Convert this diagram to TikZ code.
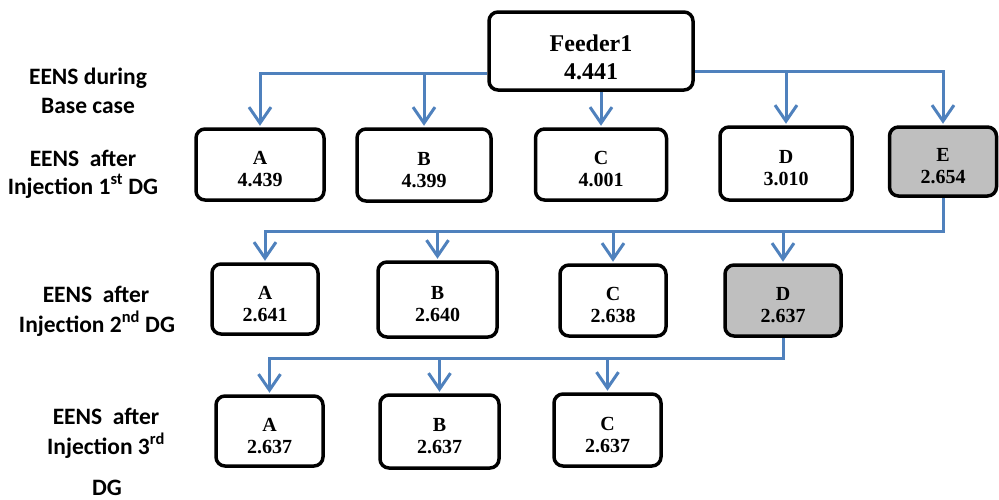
\documentclass[tikz,border=0pt]{standalone}
\usepackage{fontspec}
\setmainfont{Liberation Serif}
\newfontfamily\lblfont{Carlito}
\usetikzlibrary{arrows.meta,calc}
\definecolor{linkblue}{RGB}{79,129,189}
\definecolor{selgray}{RGB}{191,191,191}
\begin{document}
\begin{tikzpicture}[x=1pt,y=-1pt,
  box/.style={draw=black, line width=3.5pt, rounded corners=9pt, fill=white,
    align=center, inner sep=0pt, text height=44pt, text depth=0pt,
    font=\fontsize{20}{22}\selectfont\bfseries},
  selbox/.style={box, fill=selgray},
  conn/.style={draw=linkblue, line width=3pt, -{Straight Barb[length=16pt,width=22pt,line width=3pt]}, shorten >=1.5pt},
  lbl/.style={anchor=base, inner sep=0pt, font=\lblfont\fontsize{23.5}{26}\selectfont\bfseries}
]
\useasboundingbox (0,0) rectangle (999,499);

% boxes
\node[box, minimum width=204pt, minimum height=78pt, text height=56pt, text depth=0pt,
  font=\fontsize{24}{28}\selectfont\bfseries] (F) at (591,51) {Feeder1\\4.441};

\node[box, minimum width=128pt, minimum height=71pt] (R1A) at (260,164.5) {A\\4.439};
\node[box, minimum width=134pt, minimum height=72pt] (R1B) at (424,165) {B\\4.399};
\node[box, minimum width=131pt, minimum height=71pt] (R1C) at (601,164.5) {C\\4.001};
\node[box, minimum width=132pt, minimum height=73pt] (R1D) at (786,163.5) {D\\3.010};
\node[selbox, minimum width=107pt, minimum height=69pt] (R1E) at (943,161.5) {E\\2.654};

\node[box, minimum width=106pt, minimum height=70pt] (R2A) at (265,299) {A\\2.641};
\node[box, minimum width=119pt, minimum height=75pt] (R2B) at (437.5,299.5) {B\\2.640};
\node[box, minimum width=106pt, minimum height=71pt] (R2C) at (613,300.5) {C\\2.638};
\node[selbox, minimum width=116pt, minimum height=71pt] (R2D) at (783,300.5) {D\\2.637};

\node[box, minimum width=107pt, minimum height=70pt] (R3A) at (269.5,431) {A\\2.637};
\node[box, minimum width=119pt, minimum height=73pt] (R3B) at (439.5,431.5) {B\\2.637};
\node[box, minimum width=107pt, minimum height=72pt] (R3C) at (607.5,430) {C\\2.637};

% bus levels
\coordinate (b1l) at (0,73);
\coordinate (b1r) at (0,71);
\coordinate (b2) at (0,231);
\coordinate (b3) at (0,358);

% level 1
\draw[conn] (F.west |- b1l) -| (R1A.north);
\draw[conn] (R1B.north |- b1l) -- (R1B.north);
\draw[conn] (R1C.north |- F.south) -- (R1C.north);
\draw[conn] (F.east |- b1r) -| (R1E.north);
\draw[conn] (R1D.north |- b1r) -- (R1D.north);

% level 2
\draw[conn] (R1E.south) -- (R1E.south |- b2) -- (R2A.north |- b2) -- (R2A.north);
\draw[conn] (R2B.north |- b2) -- (R2B.north);
\draw[conn] (R2C.north |- b2) -- (R2C.north);
\draw[conn] (R2D.north |- b2) -- (R2D.north);

% level 3
\draw[conn] (R2D.south) -- (R2D.south |- b3) -- (R3A.north |- b3) -- (R3A.north);
\draw[conn] (R3B.north |- b3) -- (R3B.north);
\draw[conn] (R3C.north |- b3) -- (R3C.north);

% left labels
\node[lbl] (L0a) at (88,84) {EENS during};
\node[lbl] (L0b) at (88,113) {Base case};
\node[lbl] (L1a) at (83,166) {EENS\ \ after};
\node[lbl] (L1b) at (83,194) {Injection 1\textsuperscript{st} DG};
\node[lbl] (L2a) at (96,302) {EENS\ \ after};
\node[lbl] (L2b) at (97,332) {Injection 2\textsuperscript{nd} DG};
\node[lbl] (L3a) at (106,424) {EENS\ \ after};
\node[lbl] (L3b) at (106,454) {Injection 3\textsuperscript{rd}};
\node[lbl] (L3c) at (107,495) {DG};
\end{tikzpicture}
\end{document}
